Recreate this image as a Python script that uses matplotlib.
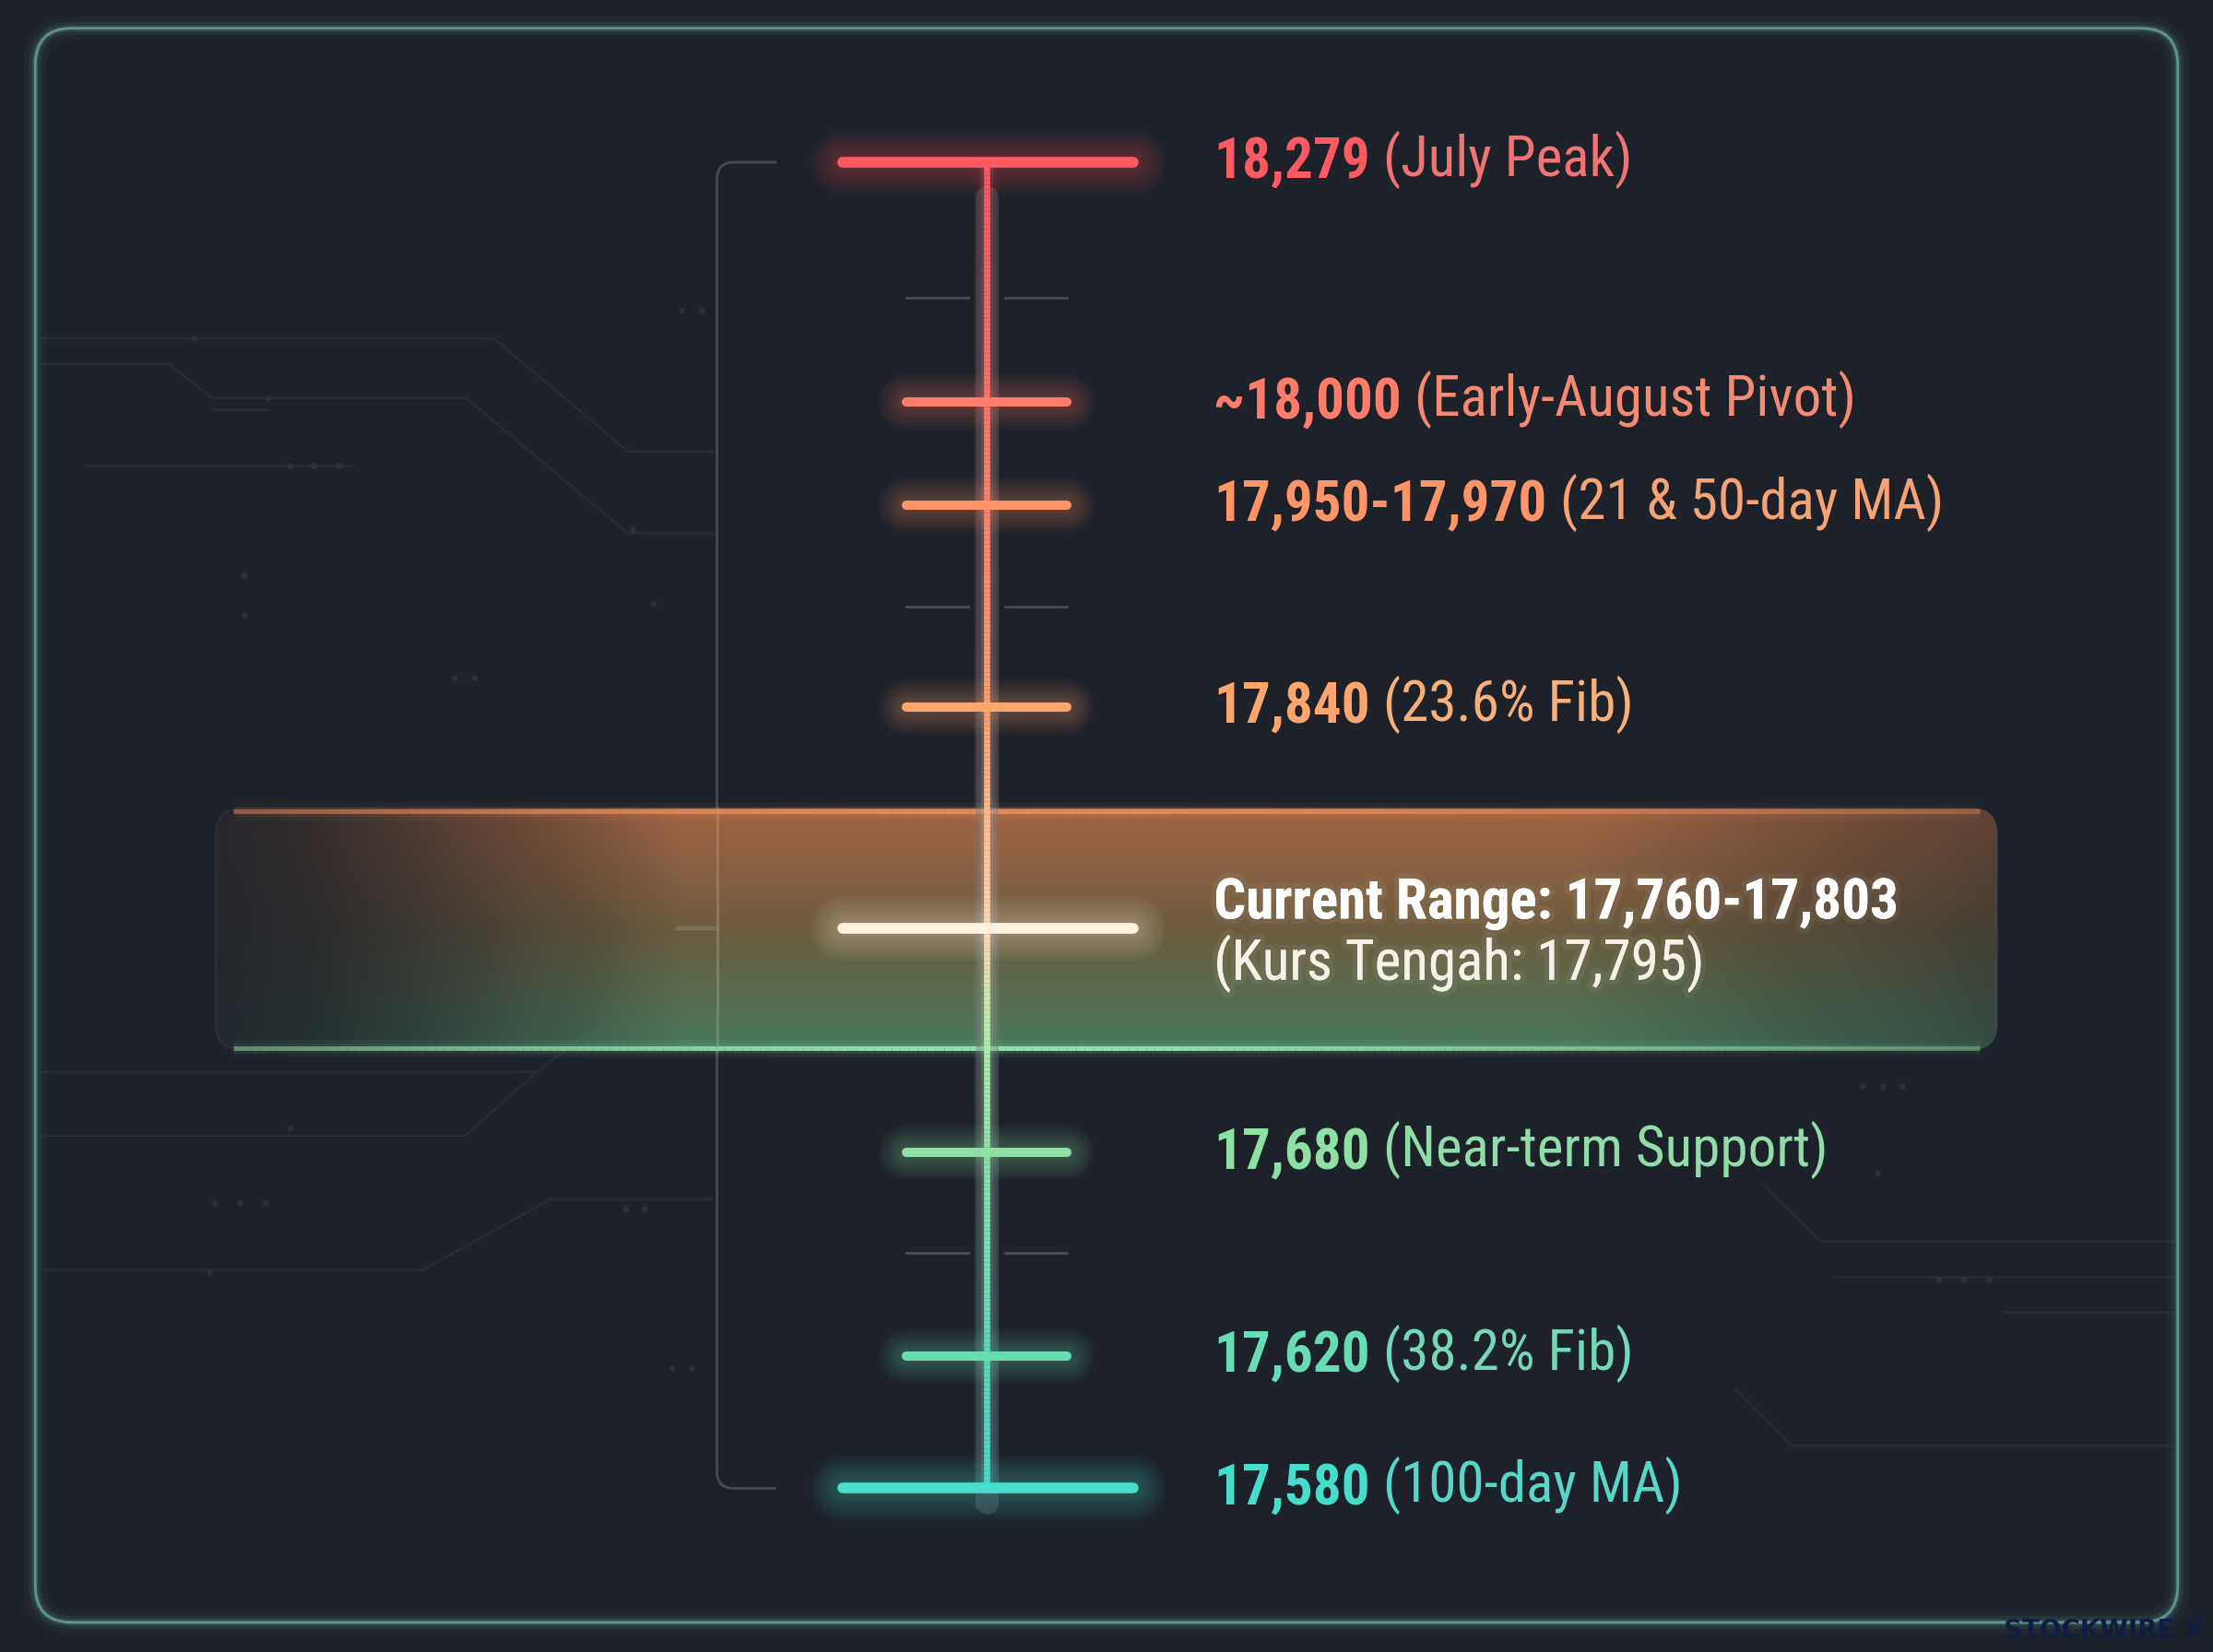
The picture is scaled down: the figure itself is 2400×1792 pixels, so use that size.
import numpy as np
import matplotlib
matplotlib.use('Agg')
import matplotlib.pyplot as plt
from matplotlib import font_manager
from matplotlib.patches import FancyBboxPatch
from matplotlib.collections import LineCollection
from matplotlib.colors import LinearSegmentedColormap, to_rgb
from matplotlib.path import Path
from matplotlib.patches import PathPatch
import matplotlib.patheffects as pe

# Niveis (dados)
values = ['18,279', '~18,000', '17,950-17,970', '17,840', '17,680', '17,620', '17,580']
notes = ['(July Peak)', '(Early-August Pivot)', '(21 & 50-day MA)', '(23.6% Fib)',
         '(Near-term Support)', '(38.2% Fib)', '(100-day MA)']
current_range = 'Current Range: 17,760-17,803'
kurs_tengah = '(Kurs Tengah: 17,795)'

# posicao esquematica na escada (layout, 0 = topo)
ladder = [115, 285, 358, 501, 817, 961, 1055]
current_y = 658
minor_ticks = [211, 430, 888]
major = [True, False, False, False, False, False, True]

val_colors = ['#ff5a62', '#ff7b6a', '#ff9466', '#ffa66e', '#8fe0a4', '#68dcb4', '#48dcca']
note_colors = ['#f07474', '#f58a72', '#f5a274', '#f5b07c', '#92dcaa', '#74d8b6', '#58d6c8']

# fonte
names = {f.name for f in font_manager.fontManager.ttflist}
FONT = 'Roboto'
for cand in ['Roboto Condensed', 'Liberation Sans Narrow', 'Open Sans Condensed', 'Roboto']:
    if cand in names:
        FONT = cand
        break
plt.rcParams['font.family'] = [FONT, 'DejaVu Sans']

BG = '#1d2129'
W, H = 1568, 1171
fig = plt.figure(figsize=(12, 8.96), dpi=200, facecolor=BG)
ax = fig.add_axes([0, 0, 1, 1])
ax.set_xlim(0, W)
ax.set_ylim(H, 0)
ax.axis('off')
ax.set_facecolor(BG)

# tracos de circuito no fundo
trace_c = '#262b34'
traces = [
    [(30, 240), (350, 240), (445, 320), (505, 320)],
    [(30, 258), (120, 258), (150, 282), (330, 282), (445, 378), (505, 378)],
    [(150, 290), (190, 290)],
    [(60, 330), (250, 330)],
    [(30, 760), (380, 760), (420, 730), (505, 730)],
    [(30, 805), (330, 805), (380, 760)],
    [(30, 900), (300, 900), (390, 850), (505, 850)],
    [(1250, 840), (1290, 880), (1540, 880)],
    [(1300, 905), (1540, 905)],
    [(1420, 930), (1540, 930)],
    [(1230, 985), (1270, 1025), (1540, 1025)],
]
for tr in traces:
    xs, ys = zip(*tr)
    ax.plot(xs, ys, color=trace_c, lw=0.9, zorder=1)
dots = [(137, 240), (190, 282), (205, 330), (222, 330), (240, 330), (463, 428), (448, 375),
        (483, 220), (497, 220), (322, 480), (336, 480), (173, 408), (173, 436),
        (152, 853), (170, 853), (188, 853), (443, 857), (457, 857), (205, 800),
        (1373, 907), (1391, 907), (1409, 907), (1320, 770), (1334, 770), (1348, 770),
        (476, 970), (490, 970), (148, 902), (1330, 832)]
ax.scatter(*zip(*dots), s=6, color='#2a2f38', zorder=1, linewidths=0)

# moldura externa com brilho
for lw, a in [(9, 0.04), (5, 0.08), (2.5, 0.15)]:
    ax.add_patch(FancyBboxPatch((25, 20), 1518, 1130, boxstyle='round,pad=0,rounding_size=26',
                                fc='none', ec='#7fd0c0', lw=lw, alpha=a, zorder=2))
ax.add_patch(FancyBboxPatch((25, 20), 1518, 1130, boxstyle='round,pad=0,rounding_size=26',
                            fc='none', ec='#6aa8a0', lw=1.0, alpha=0.8, zorder=2))

# faixa do intervalo atual
bx0, bx1, by0, by1 = 153, 1415, 573, 744
hh, ww = 120, 500
top_c = np.array(to_rgb('#b06a44'))
mid_c = np.array(to_rgb('#746242'))
bot_c = np.array(to_rgb('#4c8062'))
t = np.linspace(0, 1, hh)[:, None]
col = np.where(t < 0.5, top_c * (1 - 2 * t) + mid_c * (2 * t),
               mid_c * (2 - 2 * t) + bot_c * (2 * t - 1))
xs = np.linspace(bx0, bx1, ww)
left = np.clip((xs - bx0) / 330, 0, 1)
right = np.clip((bx1 - xs) / 300, 0, 1)
prof = 0.08 + 0.84 * (left ** 1.3) * (0.45 + 0.55 * right)
img = np.zeros((hh, ww, 4))
img[..., :3] = np.repeat(col[:, None, :], ww, axis=1)
img[..., 3] = np.broadcast_to(prof[None, :], (hh, ww))
band_clip = FancyBboxPatch((bx0, by0), bx1 - bx0, by1 - by0,
                           boxstyle='round,pad=0,rounding_size=18', fc='none', ec='none')
ax.add_patch(band_clip)
im = ax.imshow(img, extent=(bx0, bx1, by1, by0), aspect='auto', zorder=3, interpolation='bilinear')
im.set_clip_path(band_clip)
ax.add_patch(FancyBboxPatch((bx0, by0), bx1 - bx0, by1 - by0,
                            boxstyle='round,pad=0,rounding_size=18', fc='none',
                            ec='#ffffff', lw=0.8, alpha=0.05, zorder=3))

# bordas da faixa
for y, c in [(by0 + 2, '#e08a5c'), (by1 - 1, '#8ee4a6')]:
    segs = np.linspace(bx0 + 12, bx1 - 12, 200)
    pts = np.array([segs, np.full_like(segs, y)]).T.reshape(-1, 1, 2)
    sg = np.concatenate([pts[:-1], pts[1:]], axis=1)
    fade = 0.3 + 0.7 * np.exp(-((segs[:-1] - 720) / 480) ** 2)
    rgba = np.zeros((len(sg), 4))
    rgba[:, :3] = to_rgb(c)
    for lw, a in [(7, 0.08), (4, 0.14), (1.8, 1.0)]:
        rgba[:, 3] = fade * a
        ax.add_collection(LineCollection(sg, colors=rgba.copy(), linewidths=lw, zorder=4))

# colchete a esquerda
br = '#454a54'
verts = [(550, ladder[0]), (520, ladder[0]), (508, ladder[0]), (508, ladder[0] + 12),
         (508, ladder[-1] - 12), (508, ladder[-1]), (520, ladder[-1]), (550, ladder[-1])]
codes = [Path.MOVETO, Path.LINETO, Path.CURVE3, Path.CURVE3, Path.LINETO,
         Path.CURVE3, Path.CURVE3, Path.LINETO]
ax.add_patch(PathPatch(Path(verts, codes), fc='none', ec=br, lw=1.0, zorder=2))
ax.plot([508, 508], [by0, by1], color='#b0a894', lw=1.0, alpha=0.35, zorder=4)
ax.plot([480, 508], [current_y, current_y], color='#8a8478', lw=1.6, alpha=0.5, zorder=4)

# trilho cinza atras da linha vertical
cx = 699
ax.plot([cx, cx], [ladder[0] + 25, ladder[-1] + 10], color='#6a6e76', lw=9,
        alpha=0.35, solid_capstyle='round', zorder=4)

# ticks menores
for y in minor_ticks:
    ax.plot([642, 686], [y, y], color='#474c55', lw=1.0, zorder=4)
    ax.plot([712, 756], [y, y], color='#474c55', lw=1.0, zorder=4)

# linha vertical em gradiente
grad = LinearSegmentedColormap.from_list('lad', [
    (0.0, '#ff5560'), (0.18, '#ff7468'), (0.41, '#ffa070'), (0.58, '#ffd8ae'),
    (0.67, '#a8eea8'), (0.9, '#58d8b8'), (1.0, '#44dcc8')])
yy = np.linspace(ladder[0], ladder[-1], 300)
pts = np.array([np.full_like(yy, cx), yy]).T.reshape(-1, 1, 2)
segs = np.concatenate([pts[:-1], pts[1:]], axis=1)
cvals = grad((yy[:-1] - ladder[0]) / (ladder[-1] - ladder[0]))
for lw, a in [(10, 0.05), (7, 0.08), (4.5, 0.14)]:
    cc = cvals.copy()
    cc[:, 3] = a
    ax.add_collection(LineCollection(segs, colors=cc, linewidths=lw, zorder=5))
ax.add_collection(LineCollection(segs, colors=cvals, linewidths=2.4, zorder=6))


def glow_bar(x0, x1, y, color, lw, z=7):
    for k in np.linspace(6.0, 1.4, 9):
        ax.plot([x0, x1], [y, y], color=color, lw=lw * k, alpha=0.035,
                solid_capstyle='round', zorder=z)
    ax.plot([x0, x1], [y, y], color=color, lw=lw, solid_capstyle='round', zorder=z + 1)


# niveis
for y, is_major, vc in zip(ladder, major, val_colors):
    if is_major:
        glow_bar(597, 803, y, vc, 4.2)
    else:
        glow_bar(642, 756, y, vc, 3.6)
glow_bar(597, 803, current_y, '#fff2de', 4.2)

# rotulos
FS = 22
tx = 860
for y, v, n, vc, nc in zip(ladder, values, notes, val_colors, note_colors):
    tv = ax.text(tx, y, v, color=vc, fontsize=FS, fontweight='bold',
                 ha='left', va='center', zorder=9)
    ax.annotate(' ' + n, xy=(1, 0), xycoords=tv, ha='left', va='bottom',
                color=nc, fontsize=FS, zorder=9)

glow = [pe.withStroke(linewidth=4, foreground='#fff4e0', alpha=0.06), pe.Normal()]
ax.text(tx, 640, current_range, color='#ffffff', fontsize=FS, fontweight='bold',
        ha='left', va='center', zorder=9, path_effects=glow)
ax.text(tx, 683, kurs_tengah, color='#f6f2ea', fontsize=FS,
        ha='left', va='center', zorder=9, path_effects=glow)

# marca d'agua
ax.text(1561, 1156, 'STOCKWIRE X', color='#121c40', fontsize=10, fontweight='heavy',
        family='DejaVu Sans', ha='right', va='center', zorder=9)

fig.savefig('out.png', dpi=200, facecolor=BG)
